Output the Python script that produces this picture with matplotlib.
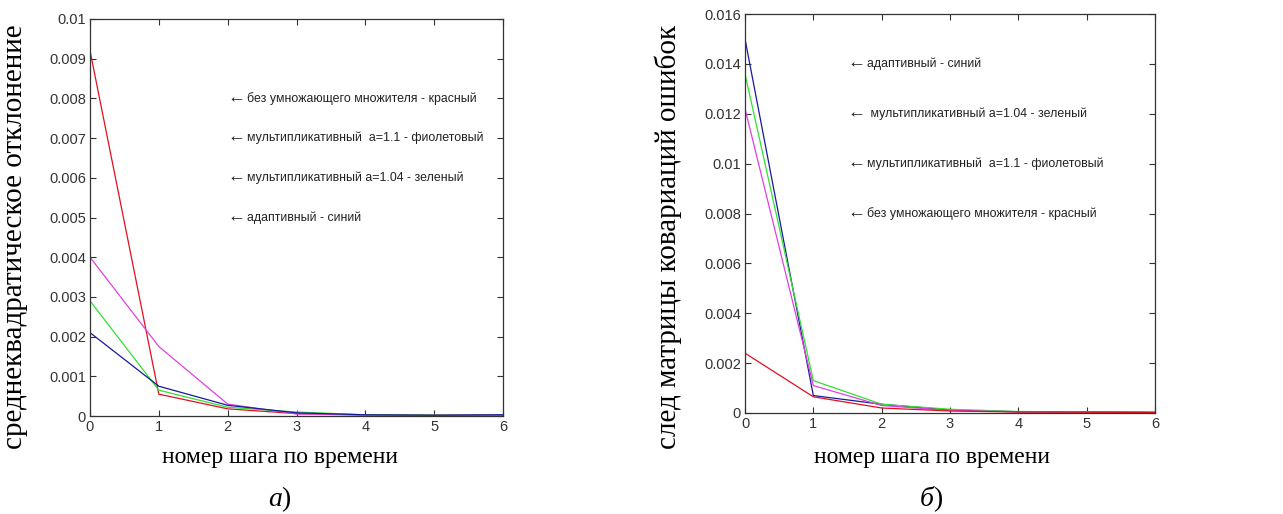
import numpy as np
import matplotlib.pyplot as plt

# steps
steps = [0, 1, 2, 3, 4, 5, 6]

# (a) RMS deviation
a_red = [0.0092, 0.00055, 0.00018, 0.00006, 0.00003, 0.00002, 0.00002]
a_magenta = [0.0040, 0.00175, 0.00030, 0.00005, 0.00002, 0.00001, 0.00003]
a_green = [0.0029, 0.00065, 0.00022, 0.00010, 0.00003, 0.00002, 0.00002]
a_blue = [0.0021, 0.00075, 0.00027, 0.00008, 0.00003, 0.00002, 0.00003]

# (b) trace of error covariance matrix
b_blue = [0.0150, 0.00070, 0.00035, 0.00012, 0.00005, 0.00005, 0.00003]
b_green = [0.0136, 0.00130, 0.00035, 0.00015, 0.00006, 0.00004, 0.00003]
b_magenta = [0.0122, 0.00110, 0.00030, 0.00010, 0.00005, 0.00005, 0.00002]
b_red = [0.0024, 0.00065, 0.00020, 0.00008, 0.00004, 0.00003, 0.00002]

a_notes = ["без умножающего множителя - красный",
           "мультипликативный  a=1.1 - фиолетовый",
           "мультипликативный a=1.04 - зеленый",
           "адаптивный - синий"]
a_note_y = [0.008, 0.007, 0.006, 0.005]

b_notes = ["адаптивный - синий",
           " мультипликативный a=1.04 - зеленый",
           "мультипликативный  a=1.1 - фиолетовый",
           "без умножающего множителя - красный"]
b_note_y = [0.014, 0.012, 0.010, 0.008]

RED, MAG, GRN, BLU = '#e01020', '#e040e0', '#30e030', '#1818a0'
serif = ['Liberation Serif', 'DejaVu Serif']
note_font = ['Liberation Sans Narrow', 'Liberation Sans', 'DejaVu Sans']

fig = plt.figure(figsize=(12.83, 5.14), dpi=100)
W, H = 1283, 514
ax1 = fig.add_axes([90 / W, 1 - 416 / H, 413 / W, 397 / H])
ax2 = fig.add_axes([745 / W, 1 - 413 / H, 410 / W, 399 / H])


def note(ax, x, y, t):
    ax.annotate('←', (x, y), xytext=(0, 0.6), textcoords='offset points',
                family=serif, fontsize=13, va='center', color='#222222')
    ax.annotate(t, (x, y), xytext=(14, 0), textcoords='offset points',
                family=note_font, fontsize=8.9, va='center', color='#222222')


ax1.plot(steps, a_red, color=RED, lw=0.9)
ax1.plot(steps, a_magenta, color=MAG, lw=0.9)
ax1.plot(steps, a_green, color=GRN, lw=0.9)
ax1.plot(steps, a_blue, color=BLU, lw=0.9)
ax1.set_ylim(0, 0.01)
ax1.set_yticks(np.arange(0, 0.0101, 0.001))
ax1.set_yticklabels(['0', '0.001', '0.002', '0.003', '0.004', '0.005',
                     '0.006', '0.007', '0.008', '0.009', '0.01'])
for t, y in zip(a_notes, a_note_y):
    note(ax1, 2.0, y, t)

ax2.plot(steps, b_blue, color=BLU, lw=0.9)
ax2.plot(steps, b_green, color=GRN, lw=0.9)
ax2.plot(steps, b_magenta, color=MAG, lw=0.9)
ax2.plot(steps, b_red, color=RED, lw=0.9)
ax2.set_ylim(0, 0.016)
ax2.set_yticks(np.arange(0, 0.0161, 0.002))
ax2.set_yticklabels(['0', '0.002', '0.004', '0.006', '0.008', '0.01',
                     '0.012', '0.014', '0.016'])
for t, y in zip(b_notes, b_note_y):
    note(ax2, 1.5, y, t)

for ax in (ax1, ax2):
    ax.set_xlim(0, 6)
    ax.set_xticks(steps)
    ax.tick_params(direction='in', top=True, right=True, length=4, width=0.8,
                   labelsize=10.5, colors='#333333', pad=3)
    for lab in ax.get_xticklabels() + ax.get_yticklabels():
        lab.set_family(['Liberation Sans', 'DejaVu Sans'])
    for s in ax.spines.values():
        s.set_color('#333333')
        s.set_linewidth(0.9)

# axis titles and panel letters
fig.text(15 / W, 1 - 237 / H, 'среднеквадратическое отклонение', rotation=90,
         ha='center', va='center', family=serif, fontsize=21)
fig.text(668 / W, 1 - 237 / H, 'след матрицы ковариаций ошибок', rotation=90,
         ha='center', va='center', family=serif, fontsize=21)
fig.text(280 / W, 1 - 457 / H, 'номер шага по времени', ha='center', va='center',
         family=serif, fontsize=17)
fig.text(932 / W, 1 - 457 / H, 'номер шага по времени', ha='center', va='center',
         family=serif, fontsize=17)
for cx, letter in [(268, 'а'), (920, 'б')]:
    fig.text(cx / W, 1 - 506 / H, letter, ha='left', va='baseline',
             family=serif, fontsize=20, style='italic')
    fig.text((cx + 13) / W, 1 - 506 / H, ')', ha='left', va='baseline',
             family=serif, fontsize=20)

fig.savefig('out.png', dpi=100, facecolor='white')
